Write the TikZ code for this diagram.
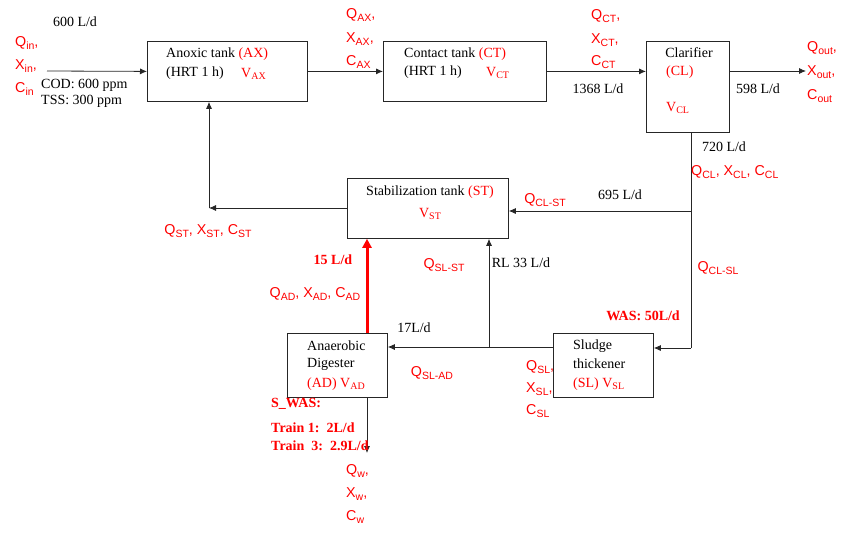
\documentclass[tikz,border=0pt]{standalone}
\usepackage{fontspec}
\setmainfont{Liberation Serif}
\setsansfont{Liberation Sans}
\usetikzlibrary{arrows.meta}
\newcommand\sbs[1]{\raisebox{-0.4ex}{\fontsize{10.5}{11}\selectfont #1}}
\newcommand\sbr[1]{\raisebox{-0.4ex}{\fontsize{10}{11}\selectfont #1}}
\begin{document}
\begin{tikzpicture}[x=1pt,y=-1pt,
  box/.style={draw=black!85, line width=0.8pt, rectangle, anchor=north west, inner sep=0pt},
  arr/.style={draw=black!85, line width=0.8pt, -{Latex[length=7pt,width=6pt]}},
  ln/.style={draw=black!85, line width=0.8pt},
  txt/.style={font=\fontsize{14}{16}\selectfont, inner sep=0pt},
  rtxt/.style={font=\fontsize{14}{16}\selectfont, text=red, inner sep=0pt},
  bred/.style={font=\fontsize{14}{16}\selectfont\bfseries, text=red, inner sep=0pt},
  slab/.style={font=\sffamily\fontsize{14.3}{16}\selectfont, text=red, inner sep=0pt},
]
\useasboundingbox (0,0) rectangle (842,533);
% boxes
\node[box, minimum width=160pt, minimum height=60pt] (AX) at (147,41) {};
\node[box, minimum width=163pt, minimum height=60pt] (CT) at (383,41) {};
\node[box, minimum width=83pt, minimum height=91pt] (CL) at (646,41) {};
\node[box, minimum width=161pt, minimum height=60pt] (ST) at (347,178) {};
\node[box, minimum width=100pt, minimum height=64pt] (AD) at (287,333) {};
\node[box, minimum width=100pt, minimum height=64pt] (SL) at (553,333) {};
% box texts
\node[txt, anchor=west] (axt1) at (166,54) {Anoxic tank \textcolor{red}{(AX)}};
\node[txt, anchor=west] (axt2) at (166,73) {(HRT 1 h)};
\node[rtxt, anchor=west] (axv) at (241,74) {V\sbr{AX}};
\node[txt, anchor=west] (ctt1) at (404,54) {Contact tank \textcolor{red}{(CT)}};
\node[txt, anchor=west] (ctt2) at (404,72) {(HRT 1 h)};
\node[rtxt, anchor=west] (ctv) at (486,73) {V\sbr{CT}};
\node[txt] (clt1) at (689,53) {Clarifier};
\node[rtxt, anchor=west] (clt2) at (666,72) {(CL)};
\node[rtxt, anchor=west] (clv) at (666,108) {V\sbr{CL}};
\node[txt] (stt1) at (430,192) {Stabilization tank \textcolor{red}{(ST)}};
\node[rtxt] (stv) at (430,214) {V\sbr{ST}};
\node[txt, anchor=west] (adt1) at (307,346) {Anaerobic};
\node[txt, anchor=west] (adt2) at (307,364) {Digester};
\node[rtxt, anchor=west] (adt3) at (307,384) {(AD) V\sbr{AD}};
\node[txt, anchor=west] (slt1) at (573,346) {Sludge};
\node[txt, anchor=west] (slt2) at (573,364) {thickener};
\node[rtxt, anchor=west] (slt3) at (573,384) {(SL) V\sbr{SL}};
% coordinates
\coordinate (inp) at (47,71);
\coordinate (out) at (806,71);
\coordinate (j1) at (691,211);
\coordinate (j2) at (691,348);
\coordinate (j3) at (489,347);
\coordinate (c1) at (209,208);
\coordinate (ads) at (367,333);
\coordinate (adb) at (367,397);
\coordinate (wout) at (367,453);
% connectors
\draw[arr] (inp) -- (AX.west);
\draw[arr] (AX.east) -- (CT.west);
\draw[arr] (CT.east) -- (CT.east -| CL.west);
\draw[arr] (CL.east |- out) -- (out);
\draw[ln] (CL.south -| j1) -- (j2);
\draw[arr] (j2) -- (SL.east |- j2);
\draw[arr] (j1) -- (ST.east |- j1);
\draw[arr] (ST.west |- c1) -- (c1);
\draw[arr] (c1) -- (AX.south -| c1);
\draw[draw=red, line width=3pt, -{Triangle[length=9pt,width=9pt]}] (ads) -- (ST.south -| ads);
\draw[arr] (SL.west |- j3) -- (AD.east |- j3);
\draw[arr] (j3) -- (ST.south -| j3);
\draw[arr] (adb) -- (wout);
% labels
\node[txt] (f600) at (75,22) {600 L/d};
\node[slab, anchor=west] (qin) at (15,43) {Q\sbs{in},};
\node[slab, anchor=west] (xin) at (15,66) {X\sbs{in},};
\node[slab, anchor=west] (cin) at (15,89) {C\sbs{in}};
\node[txt, anchor=west] (cod) at (41,85) {COD: 600 ppm};
\node[txt, anchor=west] (tss) at (41,101) {TSS: 300 ppm};
\node[slab, anchor=west] (qax) at (346,15) {Q\sbs{AX},};
\node[slab, anchor=west] (xax) at (346,39) {X\sbs{AX},};
\node[slab, anchor=west] (cax) at (346,62) {C\sbs{AX}};
\node[slab, anchor=west] (qct) at (591,16) {Q\sbs{CT},};
\node[slab, anchor=west] (xct) at (591,40) {X\sbs{CT},};
\node[slab, anchor=west] (cct) at (591,62) {C\sbs{CT}};
\node[txt] (f1368) at (598,89) {1368 L/d};
\node[txt] (f598) at (758,89) {598 L/d};
\node[slab, anchor=west] (qout) at (807,48) {Q\sbs{out},};
\node[slab, anchor=west] (xout) at (807,72) {X\sbs{out},};
\node[slab, anchor=west] (cout) at (807,96) {C\sbs{out}};
\node[txt] (f720) at (724,147) {720 L/d};
\node[slab, anchor=west] (qcl) at (691,172) {Q\sbs{CL}, X\sbs{CL}, C\sbs{CL}};
\node[txt] (f695) at (620,195) {695 L/d};
\node[slab] (qclst) at (545,200) {Q\sbs{CL-ST}};
\node[slab] (qst) at (208,231) {Q\sbs{ST}, X\sbs{ST}, C\sbs{ST}};
\node[bred] (f15) at (333,260) {15 L/d};
\node[slab] (qslst) at (444,265) {Q\sbs{SL-ST}};
\node[txt] (rl33) at (521,263) {RL 33 L/d};
\node[slab] (qclsl) at (718,268) {Q\sbs{CL-SL}};
\node[slab] (qad) at (315,294) {Q\sbs{AD}, X\sbs{AD}, C\sbs{AD}};
\node[bred] (was) at (643,316) {WAS: 50L/d};
\node[txt] (f17) at (414,328) {17L/d};
\node[slab] (qslad) at (432,373) {Q\sbs{SL-AD}};
\node[slab, anchor=west] (qsl) at (526,367) {Q\sbs{SL},};
\node[slab, anchor=west] (xsl) at (526,389) {X\sbs{SL},};
\node[slab, anchor=west] (csl) at (526,411) {C\sbs{SL}};
\node[bred, anchor=west] (sw1) at (271,404) {S\_WAS:};
\node[bred, anchor=west] (sw2) at (271,428) {Train 1:\ \ 2L/d};
\node[bred, anchor=west] (sw3) at (271,446) {Train\ \ 3:\ \ 2.9L/d};
\node[slab, anchor=west] (qw) at (346,471) {Q\sbs{w},};
\node[slab, anchor=west] (xw) at (346,494) {X\sbs{w},};
\node[slab, anchor=west] (cw) at (346,517) {C\sbs{w}};
\end{tikzpicture}
\end{document}
